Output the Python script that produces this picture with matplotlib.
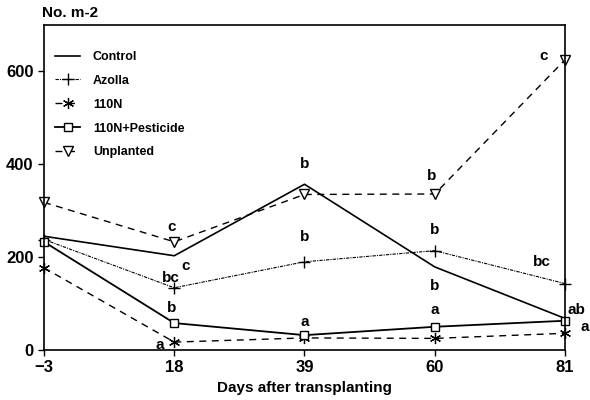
import matplotlib.pyplot as plt

plt.rcParams['font.family'] = ['Liberation Sans', 'DejaVu Sans']
plt.rcParams['font.weight'] = 'bold'

# Datos
dias = [-3, 18, 39, 60, 81]
control = [245, 203, 357, 179, 68]
azolla = [238, 134, 190, 214, 143]
n110 = [177, 17, 26, 25, 36]
n110_pest = [233, 58, 32, 50, 63]
sin_plantar = [318, 233, 335, 336, 625]

# Letras de significancia (x, y, texto)
letras_x = [17.6, 19.8, 17.4, 17.6, 15.7, 39, 39, 39, 59.5, 60, 60, 60, 77.6, 77.2, 82.9, 84.2]
letras_y = [264, 182, 156, 91, 11, 400, 244, 61, 374, 259, 138, 86, 634, 190, 86, 50]
letras = ['c', 'c', 'bc', 'b', 'a', 'b', 'b', 'a', 'b', 'b', 'b', 'a', 'c', 'bc', 'ab', 'a']

fig = plt.figure(figsize=(5.9, 4.0), dpi=100)
ax = fig.add_axes([0.0746, 0.125, 0.883, 0.8125])

ax.plot(dias, control, color='black', lw=1.2, label='Control', clip_on=False)
ax.plot(dias, azolla, color='black', lw=0.8, ls=(0, (3, 1, 1, 1)), marker='+', ms=8,
        mew=1.0, label='Azolla', clip_on=False)
ax.plot(dias, n110, color='black', lw=1.0, ls=(0, (5, 4)), marker=(6, 2, 0), ms=8,
        mew=0.9, label='110N', clip_on=False)
ax.plot(dias, n110_pest, color='black', lw=1.3, marker='s', ms=6, mfc='white',
        mew=1.0, label='110N+Pesticide', clip_on=False)
ax.plot(dias, sin_plantar, color='black', lw=1.0, ls=(0, (5, 4)), marker='v', ms=7,
        mfc='white', mew=1.0, label='Unplanted', clip_on=False)

for x, y, t in zip(letras_x, letras_y, letras):
    ax.text(x, y, t, ha='center', va='center', fontsize=11, fontweight='bold')

ax.set_xlim(-3, 81)
ax.set_ylim(0, 700)
ax.set_xticks(dias)
ax.set_yticks([0, 200, 400, 600])
ax.tick_params(labelsize=12, length=4, width=1)
for s in ax.spines.values():
    s.set_linewidth(1.2)

ax.set_xlabel('Days after transplanting', fontsize=11, fontweight='bold', labelpad=4)
fig.text(0.071, 0.968, 'No. m-2', fontsize=11, fontweight='bold', ha='left', va='center')

ax.legend(loc='upper left', bbox_to_anchor=(0.0, 0.955), frameon=False, fontsize=9,
          handlelength=2.0, labelspacing=0.95, handletextpad=1.0)

plt.savefig('out.png', dpi=100)
